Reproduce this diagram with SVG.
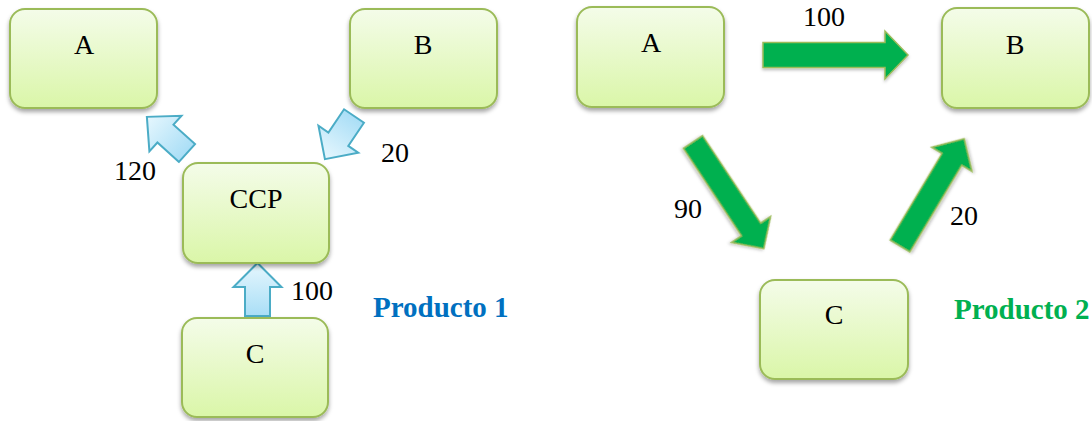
<svg xmlns="http://www.w3.org/2000/svg" width="1092" height="421" viewBox="0 0 1092 421">
  <defs>
    <linearGradient id="boxg" x1="0" y1="0" x2="0" y2="1">
      <stop offset="0" stop-color="#F4FCE9"/>
      <stop offset="1" stop-color="#DAF6A8"/>
    </linearGradient>
    <linearGradient id="blueg" x1="0" y1="0" x2="1" y2="0">
      <stop offset="0" stop-color="#A9DEF6"/>
      <stop offset="1" stop-color="#E6F7FE"/>
    </linearGradient>
    <filter id="sh" x="-20%" y="-20%" width="140%" height="150%">
      <feDropShadow dx="0" dy="3" stdDeviation="2.2" flood-color="#000" flood-opacity="0.35"/>
    </filter>
    <filter id="gsh" x="-20%" y="-30%" width="140%" height="160%">
      <feDropShadow dx="0" dy="2" stdDeviation="1.5" flood-color="#000" flood-opacity="0.25"/>
    </filter>
  </defs>
  <style>
    .box { fill: url(#boxg); stroke: #9BBB59; stroke-width: 2; filter: url(#sh); }
    .t { font-family: "Liberation Serif", "Times New Roman", serif; font-size: 28px; fill: #000; }
    .lbl { font-family: "Liberation Serif", "Times New Roman", serif; font-size: 29px; font-weight: bold; }
    .blue { fill: url(#blueg); stroke: #4BACC6; stroke-width: 2; stroke-linejoin: miter; }
    .green { fill: #00B050; stroke: #9BBB59; stroke-width: 1.5; filter: url(#gsh); }
  </style>

  <g id="connectors">
    <!-- Producto 1 -->
    <path class="blue" transform="translate(187,153) rotate(222)" d="M0,-12 L29,-12 L29,-24 L54,0 L29,24 L29,12 L0,12 Z"/>
    <path class="blue" transform="translate(354,116) rotate(124)" d="M0,-12 L28,-12 L28,-24 L52,0 L28,24 L28,12 L0,12 Z"/>
    <path class="blue" transform="translate(257.5,316) rotate(-90)" d="M0,-12.5 L29,-12.5 L29,-24 L53,0 L29,24 L29,12.5 L0,12.5 Z"/>
    <!-- Producto 2 -->
    <path class="green" transform="translate(763,55) rotate(0)" d="M0,-12.5 L122,-12.5 L122,-24 L145,0 L122,24 L122,12.5 L0,12.5 Z"/>
    <path class="green" transform="translate(693,142) rotate(56.4)" d="M0,-11.5 L105,-11.5 L105,-23.5 L128,0 L105,23.5 L105,11.5 L0,11.5 Z"/>
    <path class="green" transform="translate(900,246) rotate(-59.1)" d="M0,-11.5 L101,-11.5 L101,-23.5 L125,0 L101,23.5 L101,11.5 L0,11.5 Z"/>
  </g>

  <g id="p1-A">
    <rect class="box" x="10" y="9" width="147" height="99" rx="15"/>
    <text class="t" x="84" y="54" text-anchor="middle">A</text>
  </g>
  <g id="p1-B">
    <rect class="box" x="350" y="9" width="147" height="99" rx="15"/>
    <text class="t" x="423" y="54" text-anchor="middle">B</text>
  </g>
  <g id="p1-CCP">
    <rect class="box" x="183" y="163" width="146" height="100" rx="15"/>
    <text class="t" x="256" y="208" text-anchor="middle">CCP</text>
  </g>
  <g id="p1-C">
    <rect class="box" x="182" y="318" width="146" height="99" rx="15"/>
    <text class="t" x="255" y="363" text-anchor="middle">C</text>
  </g>

  <g id="p2-A">
    <rect class="box" x="577" y="7" width="147" height="100" rx="15"/>
    <text class="t" x="651" y="52" text-anchor="middle">A</text>
  </g>
  <g id="p2-B">
    <rect class="box" x="942" y="8" width="147" height="100" rx="15"/>
    <text class="t" x="1015" y="54" text-anchor="middle">B</text>
  </g>
  <g id="p2-C">
    <rect class="box" x="760" y="280" width="148" height="99" rx="15"/>
    <text class="t" x="834" y="324" text-anchor="middle">C</text>
  </g>

  <g id="labels">
    <text class="t" x="135" y="180" text-anchor="middle">120</text>
    <text class="t" x="395" y="162" text-anchor="middle">20</text>
    <text class="t" x="312" y="300" text-anchor="middle">100</text>
    <text class="t" x="824" y="26" text-anchor="middle">100</text>
    <text class="t" x="688" y="218" text-anchor="middle">90</text>
    <text class="t" x="964" y="225" text-anchor="middle">20</text>
    <text class="lbl" x="373" y="317" fill="#0070C0">Producto 1</text>
    <text class="lbl" x="954" y="319" fill="#00B050">Producto 2</text>
  </g>
</svg>
